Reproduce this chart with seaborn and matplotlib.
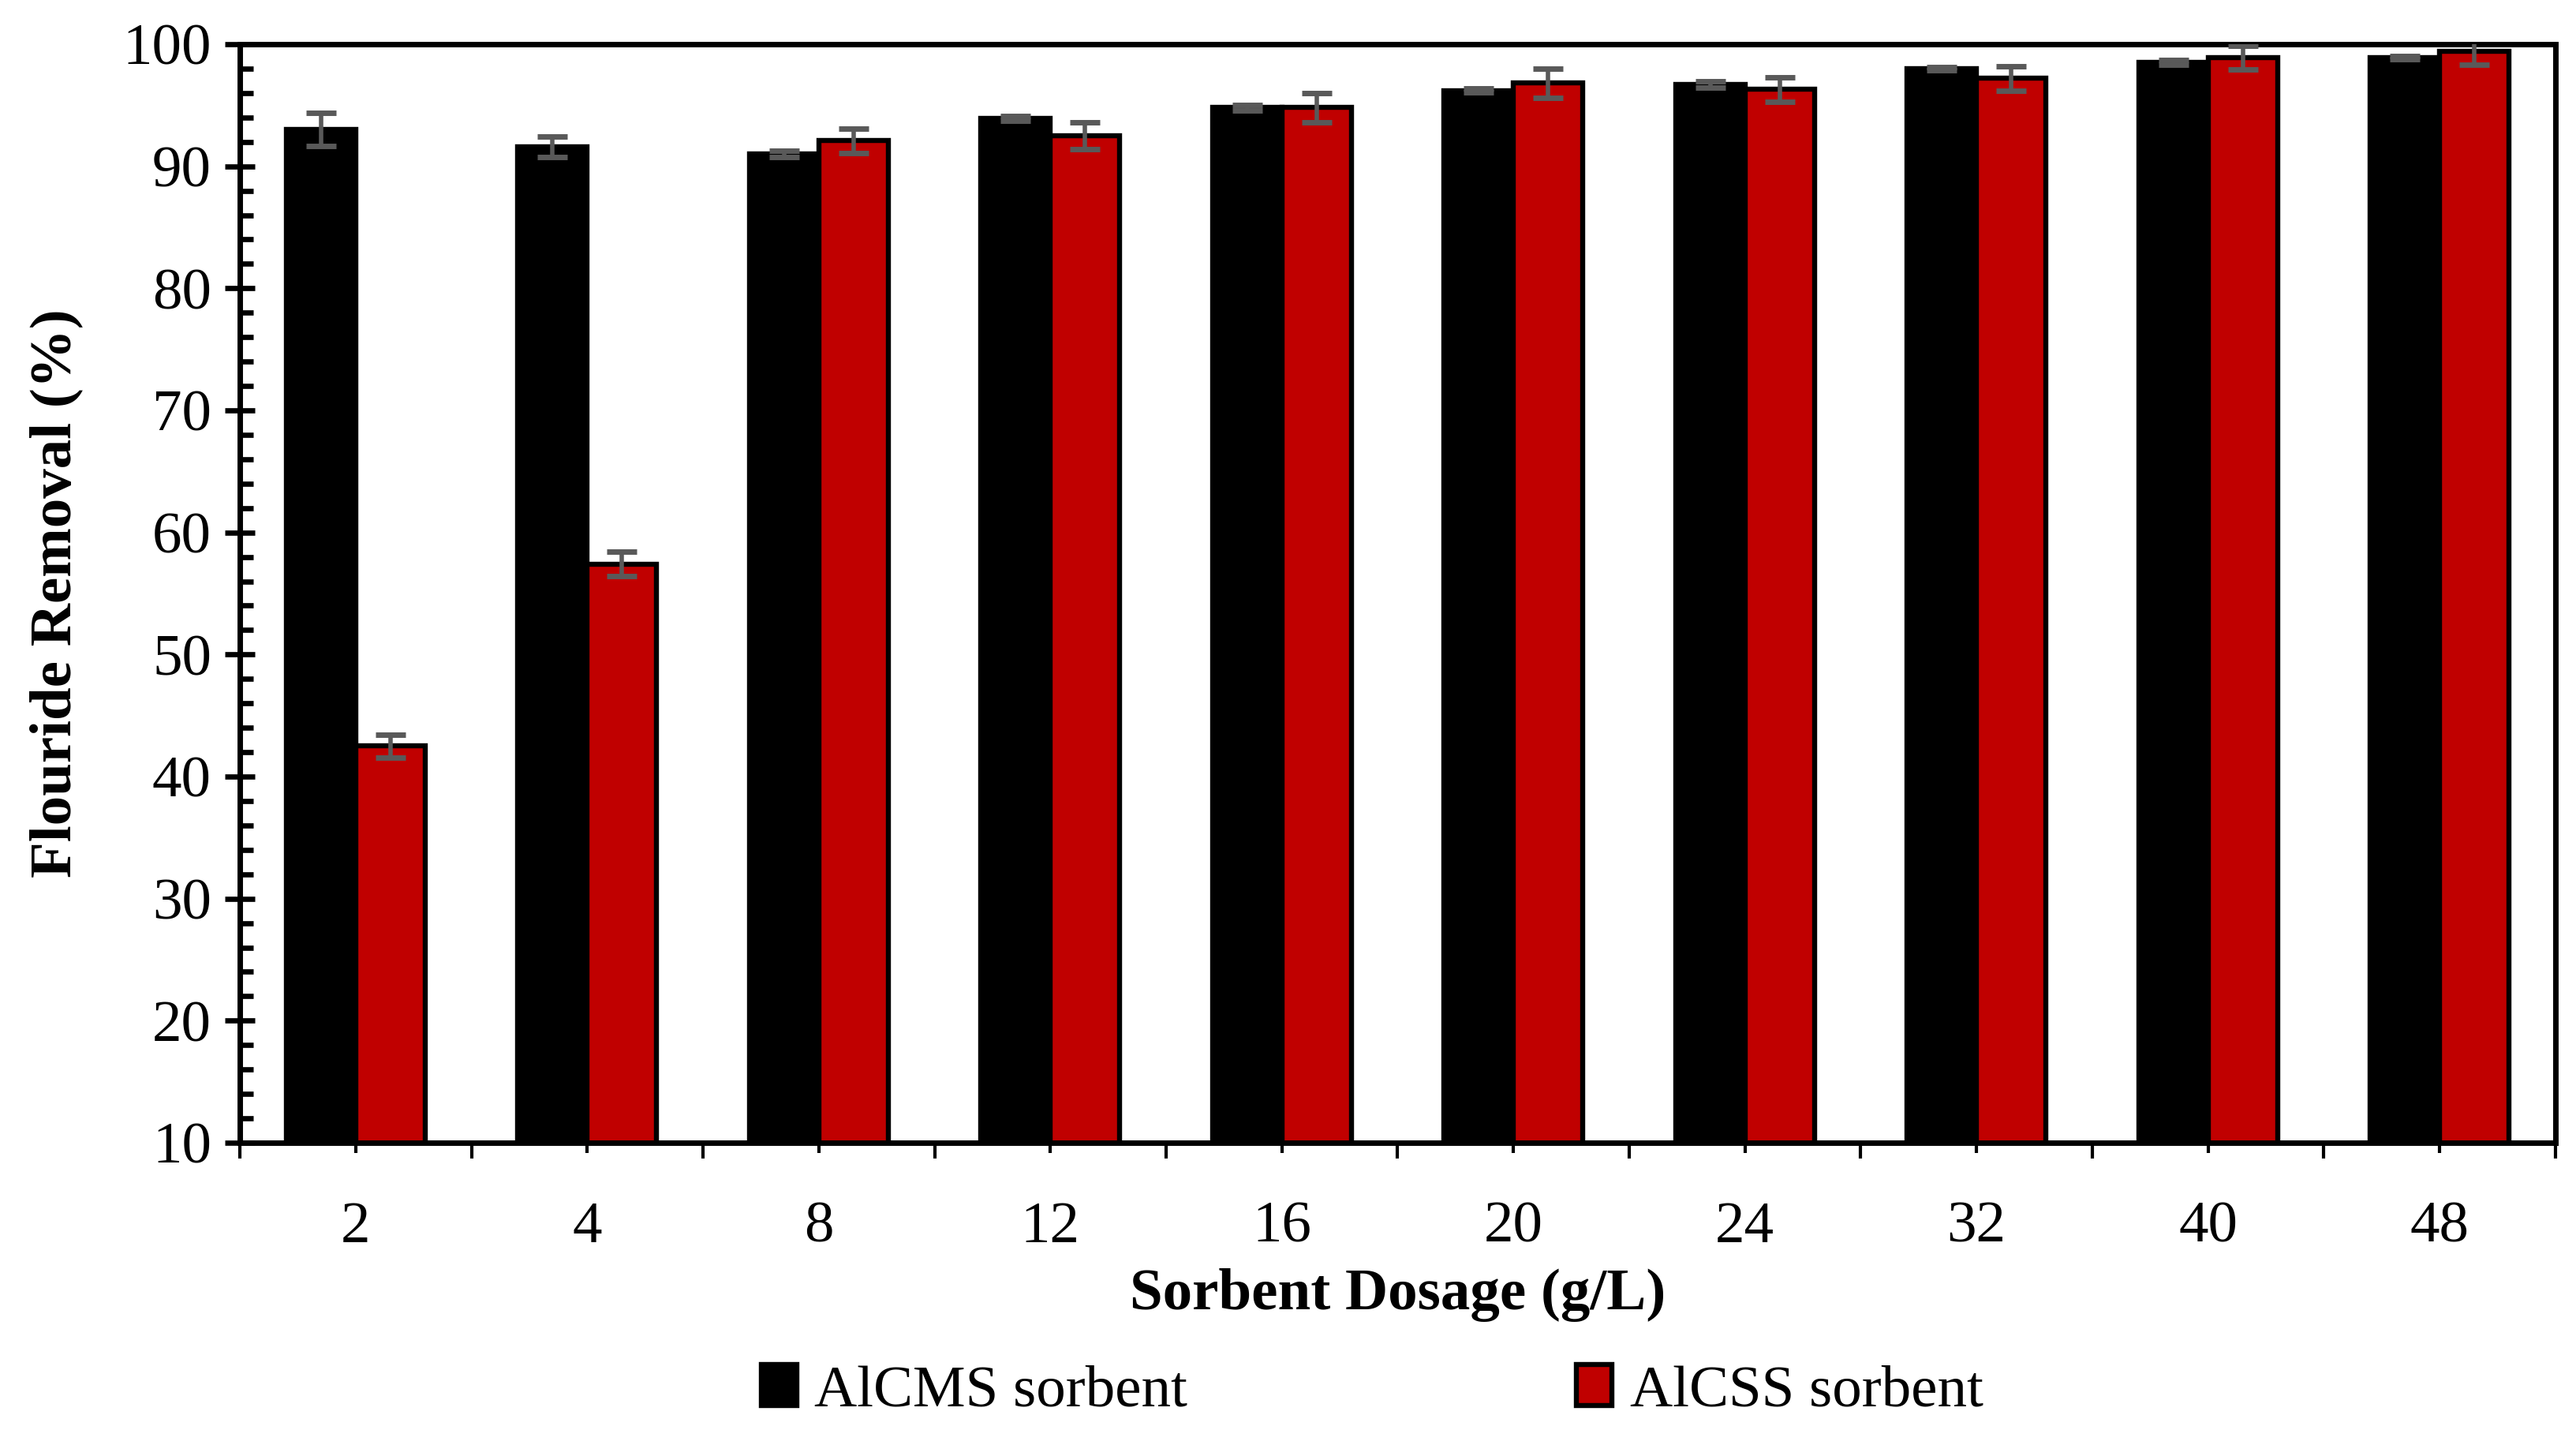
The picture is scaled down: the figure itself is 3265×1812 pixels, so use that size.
import matplotlib
matplotlib.use("Agg")
import matplotlib.pyplot as plt
from matplotlib.patches import Patch
from matplotlib.ticker import MultipleLocator, FixedLocator
import seaborn as sns
import pandas as pd

# ---- data ----
dosages = ["2", "4", "8", "12", "16", "20", "24", "32", "40", "48"]
series_names = ["AlCMS sorbent", "AlCSS sorbent"]
alcms = [93.0, 91.6, 91.0, 93.9, 94.8, 96.2, 96.7, 98.0, 98.5, 98.9]
alcms_err = [1.35, 0.85, 0.25, 0.2, 0.2, 0.15, 0.25, 0.15, 0.2, 0.15]
alcss = [42.5, 57.4, 92.1, 92.5, 94.8, 96.8, 96.3, 97.2, 98.9, 99.4]
alcss_err = [0.95, 1.0, 1.0, 1.1, 1.2, 1.2, 1.0, 1.0, 1.0, 1.1]
colors = ["#000000", "#C00000"]

df = pd.DataFrame({
    "Dosage": dosages * 2,
    "Sorbent": [series_names[0]] * len(dosages) + [series_names[1]] * len(dosages),
    "Removal": alcms + alcss,
})

sns.set_theme(style="white")
plt.rcParams["font.family"] = ["Liberation Serif", "DejaVu Serif"]
plt.rcParams["text.color"] = "black"
plt.rcParams["axes.labelcolor"] = "black"
plt.rcParams["xtick.color"] = "black"
plt.rcParams["ytick.color"] = "black"

fig = plt.figure(figsize=(16.33, 9.06), dpi=200)
ax = fig.add_axes([0.0931, 0.2009, 0.8986, 0.7682])

sns.barplot(data=df, x="Dosage", y="Removal", hue="Sorbent", order=dosages,
            hue_order=series_names, palette=colors, width=0.6, errorbar=None,
            edgecolor="black", linewidth=2.3, saturation=1, ax=ax, legend=False)

for cont, errs in zip(ax.containers, [alcms_err, alcss_err]):
    xs = [p.get_x() + p.get_width() / 2 for p in cont.patches]
    ys = [p.get_height() for p in cont.patches]
    ax.errorbar(xs, ys, yerr=errs, fmt="none", ecolor="#595959", elinewidth=2.0,
                capsize=6.9, capthick=2.5, zorder=5)

ax.set_ylim(10, 100)
ax.set_xlim(-0.5, len(dosages) - 0.5)
ax.yaxis.set_major_locator(MultipleLocator(10))
ax.yaxis.set_minor_locator(MultipleLocator(2))
ax.xaxis.set_minor_locator(FixedLocator([i - 0.5 for i in range(len(dosages) + 1)]))

ax.tick_params(axis="y", which="major", direction="inout", length=14, width=2.4,
               labelsize=27, pad=6, colors="black", left=True)
ax.tick_params(axis="y", which="minor", direction="in", length=6, width=2.4, left=True,
               colors="black")
ax.tick_params(axis="x", which="major", direction="out", length=4.8, width=1.5,
               labelsize=27, pad=22, colors="black", bottom=True)
ax.tick_params(axis="x", which="minor", direction="out", length=7.2, width=1.5, bottom=True,
               colors="black")

for s in ax.spines.values():
    s.set_visible(True)
    s.set_color("black")
    s.set_linewidth(2.5)

ax.set_xlabel("Sorbent Dosage (g/L)", fontsize=27, fontweight="bold", labelpad=6,
              color="black")
ax.set_ylabel("Flouride Removal (%)", fontsize=27, fontweight="bold", labelpad=18,
              color="black")

handles = [Patch(facecolor=c, edgecolor="black", linewidth=2.3) for c in colors]
fig.legend(handles, series_names, loc="center", bbox_to_anchor=(0.5325, 0.027), ncol=2,
           frameon=False, fontsize=27, columnspacing=6.58, handlelength=0.6,
           handleheight=0.7, handletextpad=0.3, labelcolor="black")

fig.savefig("out.png", dpi=200, facecolor="white")
